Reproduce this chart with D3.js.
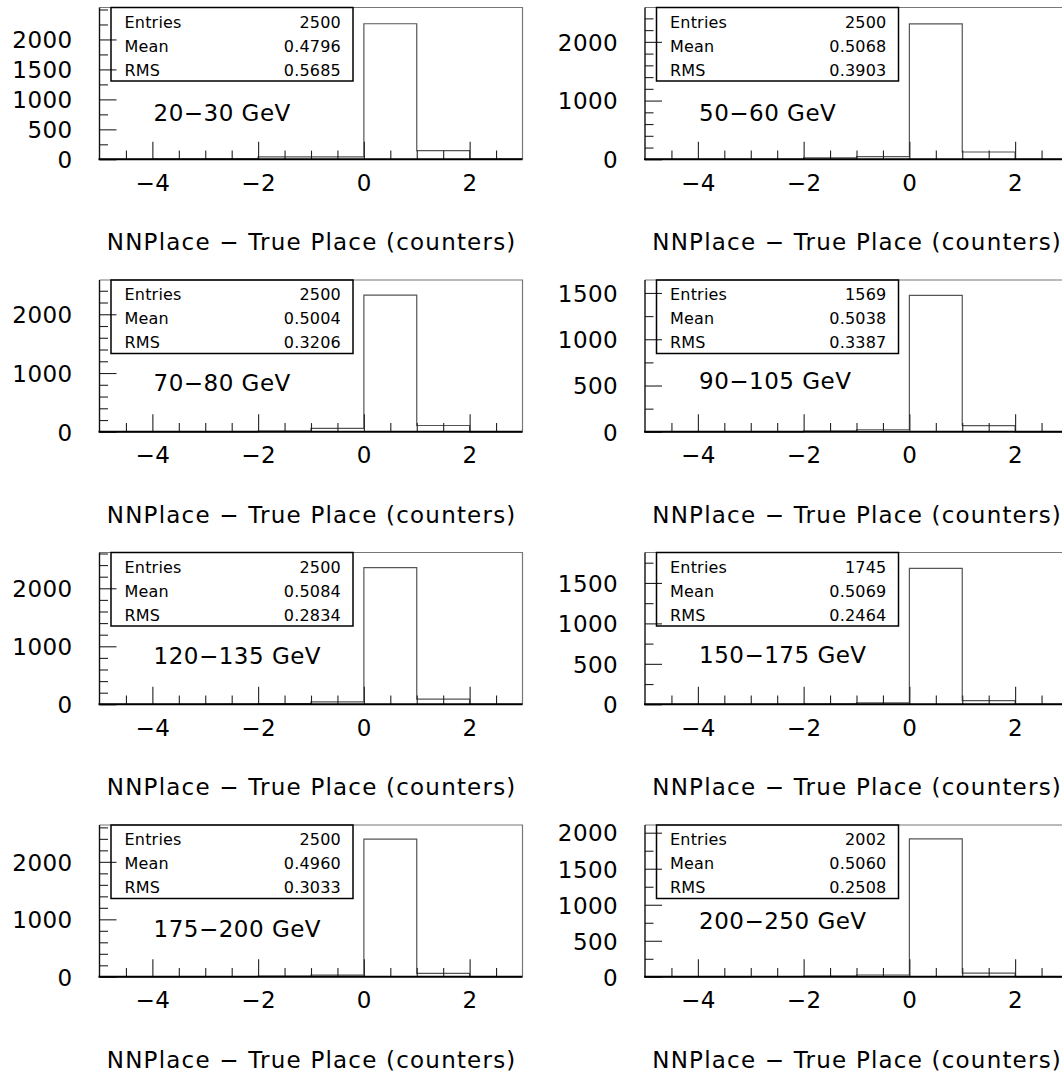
<!DOCTYPE html>
<html>
<head>
<meta charset="utf-8">
<script src="https://cdn.jsdelivr.net/npm/d3@7"></script>
<style>
  html, body { margin: 0; padding: 0; background: #fff; }
  svg { display: block; }
  text { font-family: "DejaVu Sans", sans-serif; fill: #000; }
</style>
</head>
<body>
<div id="chart"></div>
<script>
// Bin edges shared by every histogram (difference in counter places)
const binEdges = [-5, -4, -3, -2, -1, 0, 1, 2, 3];

// Energy ranges, one histogram each (row-major: left, right)
const energyLabels = ["20−30 GeV", "50−60 GeV", "70−80 GeV", "90−105 GeV",
                      "120−135 GeV", "150−175 GeV", "175−200 GeV", "200−250 GeV"];

// Statistics box contents
const entries = [2500, 2500, 2500, 1569, 2500, 1745, 2500, 2002];
const means = ["0.4796", "0.5068", "0.5004", "0.5038", "0.5084", "0.5069", "0.4960", "0.5060"];
const rmsValues = ["0.5685", "0.3903", "0.3206", "0.3387", "0.2834", "0.2464", "0.3033", "0.2508"];

// Bin contents for the 8 bins [-5,-4) ... [2,3)
const counts20 = [1, 2, 6, 40, 42, 2262, 144, 3];
const counts50 = [0, 1, 1, 23, 45, 2306, 124, 0];
const counts70 = [0, 0, 0, 11, 57, 2325, 107, 0];
const counts90 = [0, 0, 0, 7, 22, 1473, 67, 0];
const counts120 = [0, 0, 2, 12, 43, 2355, 88, 0];
const counts150 = [0, 0, 0, 2, 18, 1680, 45, 0];
const counts175 = [0, 0, 3, 12, 30, 2395, 60, 0];
const counts200 = [0, 0, 4, 8, 25, 1915, 50, 0];
const allCounts = [counts20, counts50, counts70, counts90, counts120, counts150, counts175, counts200];

// Vertical axis ranges, labelled range and tick spacing per histogram
const yMax = [2533, 2585, 2583, 1640, 2617, 1876, 2641, 2107];
const yLabelMax = [2000, 2000, 2000, 1500, 2000, 1500, 2000, 2000];
const yMajorStep = [500, 1000, 1000, 500, 1000, 500, 1000, 500];
const yMinorStep = [250, 200, 200, 250, 200, 250, 200, 250];

// Horizontal axis ticks
const xMajorTicks = [-4, -2, 0, 2];
const xMinorTicks = [-4.5, -3.5, -3, -2.5, -1.5, -1, -0.5, 0.5, 1, 1.5, 2.5];

const xTitle = "NNPlace − True Place (counters)";

const W = 1062, H = 1076;
const colLeft = [99.5, 645];
const rowTop0 = 7.5, rowStep = 272.5;
const plotW = 423, plotH = 151.8;

const svg = d3.select("#chart").append("svg")
  .attr("width", W).attr("height", H)
  .attr("viewBox", `0 0 ${W} ${H}`);

energyLabels.forEach((label, i) => {
  const col = i % 2, row = Math.floor(i / 2);
  const left = colLeft[col], top = rowTop0 + row * rowStep;
  const bottom = top + plotH, right = left + plotW;

  const x = d3.scaleLinear().domain([binEdges[0], binEdges[binEdges.length - 1]]).range([left, right]);
  const y = d3.scaleLinear().domain([0, yMax[i]]).range([bottom, top]);

  const g = svg.append("g");

  // histogram outline
  const pts = [[binEdges[0], 0]];
  allCounts[i].forEach((c, k) => { pts.push([binEdges[k], c]); pts.push([binEdges[k + 1], c]); });
  pts.push([binEdges[binEdges.length - 1], 0]);
  g.append("path")
    .attr("d", d3.line().x(d => x(d[0])).y(d => y(d[1]))(pts))
    .attr("fill", "none").attr("stroke", "#555").attr("stroke-width", 1.2);

  // frame top and right
  g.append("path")
    .attr("d", `M${left},${top}H${right}V${bottom}`)
    .attr("fill", "none").attr("stroke", "#777").attr("stroke-width", 1.2);

  // x axis: minor ticks, then major ticks with labels
  const xMinor = g.append("g").attr("transform", `translate(0,${bottom})`)
    .call(d3.axisBottom(x).tickValues(xMinorTicks).tickSize(-8.7).tickFormat(""));
  xMinor.select(".domain").remove();
  const xMajor = g.append("g").attr("transform", `translate(0,${bottom})`)
    .call(d3.axisBottom(x).tickValues(xMajorTicks).tickSize(-17.5).tickFormat(d3.format("d")));
  xMajor.select(".domain").remove();
  xMajor.selectAll("text").attr("y", 23).attr("dy", "0.36em")
    .style("font-size", "23px").style("letter-spacing", "0.4px").attr("fill", "#000");

  // y axis
  const minorVals = d3.range(yMinorStep[i], yMax[i], yMinorStep[i])
    .filter(v => v > yLabelMax[i] ||
      Math.abs(v / yMajorStep[i] - Math.round(v / yMajorStep[i])) > 1e-6);
  const majorVals = d3.range(0, yLabelMax[i] + 1, yMajorStep[i]);
  const yMinorAx = g.append("g").attr("transform", `translate(${left},0)`)
    .call(d3.axisLeft(y).tickValues(minorVals).tickSize(-8.5).tickFormat(""));
  yMinorAx.select(".domain").remove();
  const yMajorAx = g.append("g").attr("transform", `translate(${left},0)`)
    .call(d3.axisLeft(y).tickValues(majorVals).tickSize(-17).tickPadding(27).tickFormat(d3.format("d")));
  yMajorAx.select(".domain").remove();
  yMajorAx.selectAll("text").attr("dy", "0.36em")
    .style("font-size", "23px").style("letter-spacing", "0.4px").attr("fill", "#000");
  g.selectAll(".tick line").attr("stroke", "#222").attr("stroke-width", 1.1);

  // axis lines
  g.append("line").attr("x1", left).attr("x2", left).attr("y1", top).attr("y2", bottom)
    .attr("stroke", "#111").attr("stroke-width", 1.4);
  g.append("line").attr("x1", left - 1).attr("x2", right).attr("y1", bottom).attr("y2", bottom)
    .attr("stroke", "#000").attr("stroke-width", 2);

  // statistics box
  const bx = left + 11.5, bw = 242, bh = 73.5;
  g.append("rect").attr("x", bx).attr("y", top).attr("width", bw).attr("height", bh)
    .attr("fill", "none").attr("stroke", "#000").attr("stroke-width", 1.5);
  const statRows = [["Entries", String(entries[i])], ["Mean", means[i]], ["RMS", rmsValues[i]]];
  statRows.forEach((r, k) => {
    const cy = top + 14.5 + k * 24;
    g.append("text").attr("x", bx + 13.5).attr("y", cy).attr("dy", "0.36em")
      .style("font-size", "16px").style("letter-spacing", "0.2px").text(r[0]);
    g.append("text").attr("x", bx + bw - 12).attr("y", cy).attr("dy", "0.36em")
      .attr("text-anchor", "end").style("font-size", "16px").style("letter-spacing", "0.2px").text(r[1]);
  });

  // energy range label
  const labelDy = [105, 105.5, 103, 101, 103, 102, 104, 96];
  g.append("text").attr("x", left + 54).attr("y", top + labelDy[i]).attr("dy", "0.36em")
    .style("font-size", "23px").style("letter-spacing", "0.5px").text(label);

  // x axis title, right-aligned at the axis end
  g.append("text").attr("x", right - 6).attr("y", bottom + 82.5).attr("dy", "0.36em")
    .attr("text-anchor", "end").style("font-size", "23px").style("letter-spacing", "1.2px").text(xTitle);
});
</script>
</body>
</html>
